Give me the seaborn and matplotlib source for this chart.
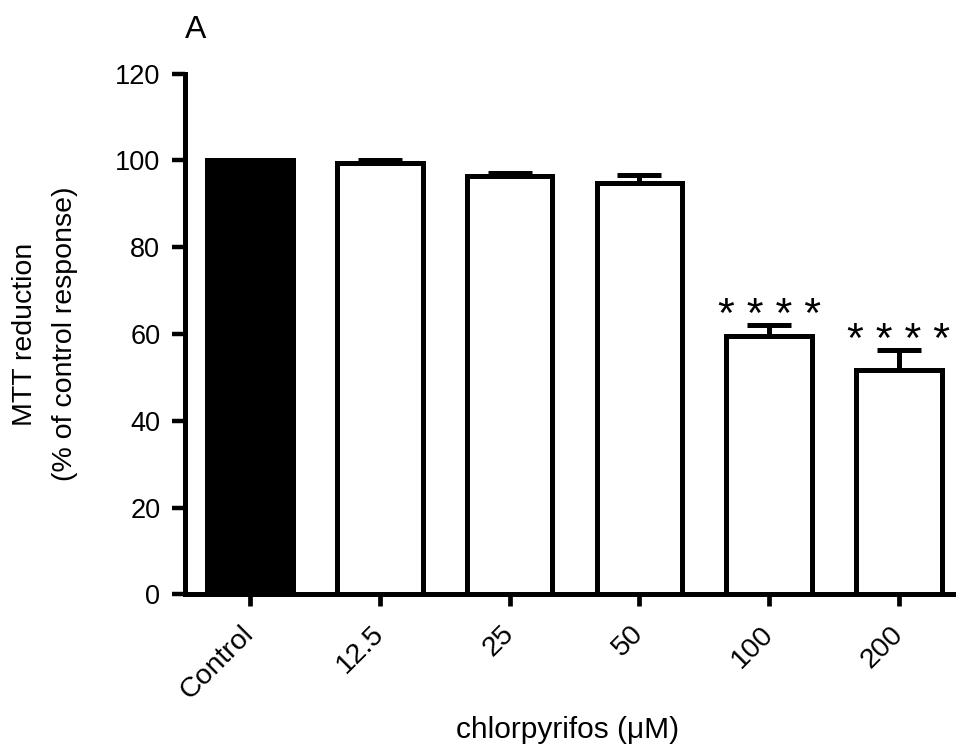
import matplotlib
matplotlib.use("Agg")
import matplotlib.pyplot as plt
import seaborn as sns
import pandas as pd

# ---- data ----
categories = ["Control", "12.5", "25", "50", "100", "200"]
means = [100.0, 99.4, 96.4, 94.7, 59.6, 51.7]
errors = [0.0, 0.8, 0.8, 2.0, 2.5, 4.6]
significance = ["", "", "", "", "* * * *", "* * * *"]
bar_colors = ["black", "white", "white", "white", "white", "white"]
yticks = [0, 20, 40, 60, 80, 100, 120]
panel_label = "A"
x_label = "chlorpyrifos (μM)"
y_label = "MTT reduction\n(% of control response)"

sns.set_style("ticks")
plt.rcParams["font.family"] = ["Liberation Sans", "DejaVu Sans"]
plt.rcParams["text.color"] = "black"
plt.rcParams["axes.labelcolor"] = "black"

fig = plt.figure(figsize=(9.56, 7.51), dpi=100)
ax = fig.add_axes([0.193, 0.2084, 0.807, 0.6935])

df = pd.DataFrame({"dose": categories, "value": means})
sns.barplot(data=df, x="dose", y="value", hue="dose", palette=bar_colors,
            legend=False, width=0.66, edgecolor="black", linewidth=3.6,
            saturation=1, errorbar=None, ax=ax, zorder=3)

xpos = list(range(len(categories)))
ax.errorbar(xpos, means, yerr=[[0] * len(errors), errors], fmt="none",
            ecolor="black", elinewidth=3.6, capsize=15.5, capthick=3.6,
            zorder=2)

for x, m, e, s in zip(xpos, means, errors, significance):
    if s:
        ax.text(x, m + e - 0.4, s, ha="center", va="baseline", fontsize=31,
                color="black")

ax.set_xlim(-0.505, 5.44)
ax.set_ylim(0, 120)
ax.set_yticks(yticks)
ax.set_yticklabels([str(v) for v in yticks], fontsize=19.5)
ax.set_xticks(xpos)
ax.set_xticklabels(categories, fontsize=20.5, rotation=45, ha="right",
                   va="center", rotation_mode="anchor")

for side in ["top", "right"]:
    ax.spines[side].set_visible(False)
for side in ["left", "bottom"]:
    ax.spines[side].set_linewidth(3.6)
    ax.spines[side].set_color("black")

ax.tick_params(axis="y", length=9.4, width=3.2, pad=8, colors="black")
ax.tick_params(axis="x", length=8.6, width=3.4, pad=17, colors="black")

ax.set_xlabel(x_label, fontsize=21.5)
ax.xaxis.label.set_va("center")
ax.xaxis.set_label_coords(0.496, -0.260)
ax.set_ylabel(y_label, fontsize=20.5, linespacing=1.7)
ax.yaxis.label.set_va("center")
ax.yaxis.set_label_coords(-0.181, 0.5)

fig.text(185 / 956, 1 - 38 / 751, panel_label, fontsize=23, ha="left",
         va="baseline")

fig.savefig("out.png", dpi=100)
